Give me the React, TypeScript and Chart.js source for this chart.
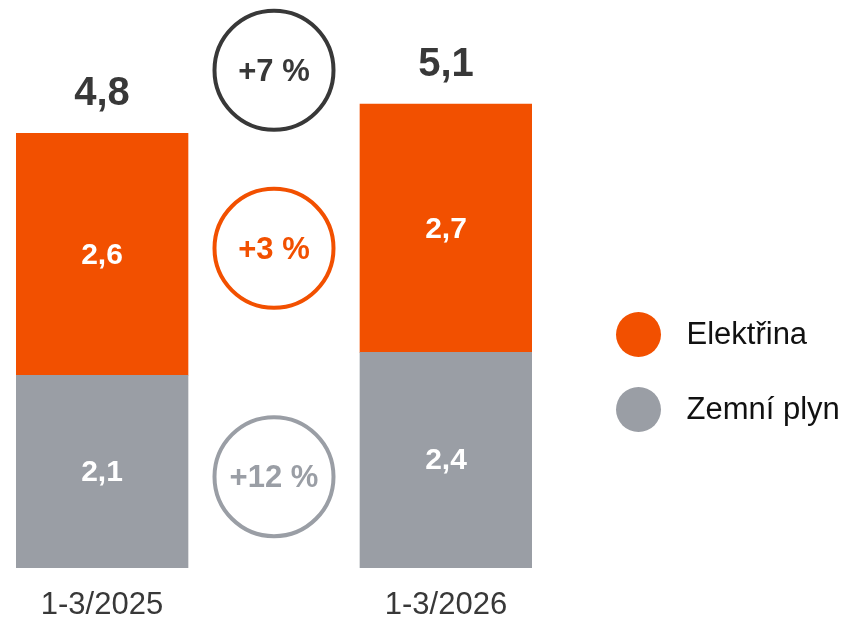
import React, { useEffect, useRef } from "react";
import { Chart, registerables } from "chart.js";

Chart.register(...registerables);

// ---- data ----
const categories = ["1-3/2025", "", "1-3/2026"];
const seriesNames = ["Elektřina", "Zemní plyn"];
const gasValues: (number | null)[] = [2.11, null, 2.36];
const elecValues: (number | null)[] = [2.65, null, 2.72];
const gasLabels = ["2,1", "", "2,4"];
const elecLabels = ["2,6", "", "2,7"];
const totalLabels = ["4,8", "", "5,1"];
const changeLabels = ["+7 %", "+3 %", "+12 %"];
const changeLevels = [5.45, 3.5, 1.0]; // y value at circle centres
const yMax = 6;

// ---- style ----
const ORANGE = "#F25000";
const GRAY = "#9A9EA5";
const DARK = "#383838";
const FONT = "'Liberation Sans', Arial, Helvetica, sans-serif";

const overlayPlugin = {
  id: "overlay",
  afterDatasetsDraw(chart: any) {
    const ctx = chart.ctx as CanvasRenderingContext2D;
    const xs = chart.scales.x;
    const ys = chart.scales.y;
    ctx.save();
    ctx.textAlign = "center";
    ctx.textBaseline = "middle";

    // inner segment labels
    const segLabels = [gasLabels, elecLabels];
    chart.data.datasets.forEach((ds: any, di: number) => {
      const meta = chart.getDatasetMeta(di);
      meta.data.forEach((bar: any, i: number) => {
        if (ds.data[i] == null) return;
        const p = bar.getProps(["x", "y", "base"], true);
        ctx.fillStyle = "#ffffff";
        ctx.font = `bold 30px ${FONT}`;
        ctx.fillText(segLabels[di][i], p.x, (p.y + p.base) / 2 + 1);
      });
    });

    // totals
    categories.forEach((_, i) => {
      const g = gasValues[i];
      const e = elecValues[i];
      if (g == null || e == null) return;
      const px = xs.getPixelForValue(i);
      const py = ys.getPixelForValue(g + e);
      ctx.fillStyle = DARK;
      ctx.font = `bold 40px ${FONT}`;
      ctx.fillText(totalLabels[i], px, py - 39);
    });

    // change circles
    const circleColors = [DARK, ORANGE, GRAY];
    const cx = xs.getPixelForValue(1);
    changeLabels.forEach((lab, k) => {
      const cy = ys.getPixelForValue(changeLevels[k]);
      ctx.beginPath();
      ctx.arc(cx, cy, 59.5, 0, Math.PI * 2);
      ctx.lineWidth = 4;
      ctx.strokeStyle = circleColors[k];
      ctx.stroke();
      ctx.fillStyle = circleColors[k];
      ctx.font = `bold 31px ${FONT}`;
      ctx.fillText(lab, cx, cy + 2);
    });

    // legend
    const legendColors = [ORANGE, GRAY];
    const lx = chart.chartArea.right + 106.5;
    const ly0 = 334.5;
    seriesNames.forEach((name, k) => {
      const cy = ly0 + k * 75;
      ctx.beginPath();
      ctx.arc(lx, cy, 22.5, 0, Math.PI * 2);
      ctx.fillStyle = legendColors[k];
      ctx.fill();
      ctx.fillStyle = "#111111";
      ctx.font = `31px ${FONT}`;
      ctx.textAlign = "left";
      ctx.fillText(name, lx + 48, cy + 1);
      ctx.textAlign = "center";
    });

    ctx.restore();
  },
};

export default function App() {
  const ref = useRef<HTMLCanvasElement | null>(null);

  useEffect(() => {
    document.body.style.margin = "0";
    const canvas = ref.current;
    if (!canvas) return;
    const chart = new Chart(canvas, {
      type: "bar",
      data: {
        labels: categories,
        datasets: [
          {
            label: seriesNames[1],
            data: gasValues,
            backgroundColor: GRAY,
            borderWidth: 0,
            barPercentage: 1,
            categoryPercentage: 1,
          },
          {
            label: seriesNames[0],
            data: elecValues,
            backgroundColor: ORANGE,
            borderWidth: 0,
            barPercentage: 1,
            categoryPercentage: 1,
          },
        ],
      },
      options: {
        responsive: false,
        animation: false,
        devicePixelRatio: 1,
        layout: { padding: { left: 16, right: 314, top: 20, bottom: 0 } },
        plugins: {
          legend: { display: false },
          tooltip: { enabled: false },
        },
        scales: {
          x: {
            stacked: true,
            grid: { display: false, drawTicks: false },
            border: { display: false },
            ticks: {
              color: DARK,
              padding: 19,
              font: { family: FONT, size: 31, lineHeight: 1.2 },
              maxRotation: 0,
              autoSkip: false,
            },
            afterFit: (scale: any) => {
              scale.height = 51;
            },
          },
          y: {
            stacked: true,
            display: false,
            min: 0,
            max: yMax,
          },
        },
      },
      plugins: [overlayPlugin],
    });
    return () => chart.destroy();
  }, []);

  return (
    <div style={{ width: 846, height: 619, overflow: "hidden" }}>
      <canvas ref={ref} width={846} height={619} style={{ display: "block" }} />
    </div>
  );
}
